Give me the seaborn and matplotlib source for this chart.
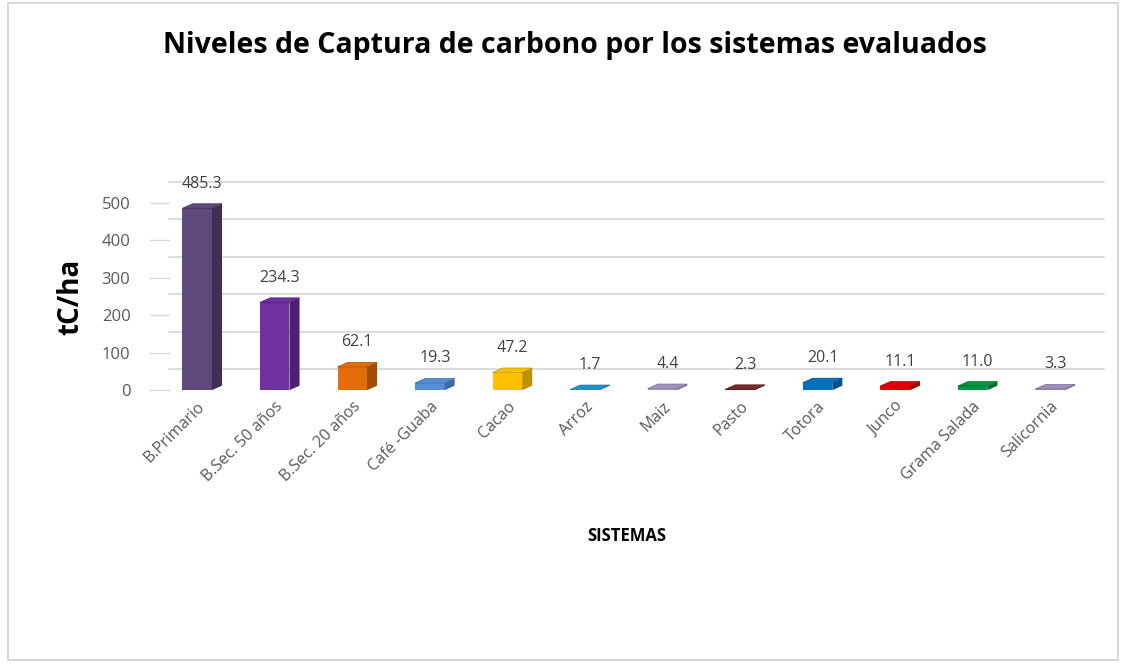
import numpy as np
import pandas as pd
import seaborn as sns
import matplotlib.pyplot as plt
from matplotlib.patches import Polygon, Rectangle
from matplotlib.transforms import ScaledTranslation

sistemas = ["B.Primario", "B.Sec. 50 años", "B.Sec. 20 años", "Café -Guaba", "Cacao",
            "Arroz", "Maiz", "Pasto", "Totora", "Junco", "Grama Salada", "Salicornia"]
carbono = [485.3, 234.3, 62.1, 19.3, 47.2, 1.7, 4.4, 2.3, 20.1, 11.1, 11.0, 3.3]
colores = ["#5E4A7C", "#7030A0", "#E46C0A", "#558ED5", "#FFC000", "#1B93C8",
           "#A093BC", "#7B2A2A", "#0070C0", "#E00000", "#00963F", "#9A8FB8"]
lados = ["#3F2E56", "#4E1F72", "#A34C05", "#3A6BA8", "#BF9000", "#0F6E98",
         "#7A6E96", "#561C1C", "#004F8A", "#A00000", "#006A2C", "#756B90"]
yticks = [0, 100, 200, 300, 400, 500]

df = pd.DataFrame({"Sistema": sistemas, "Carbono": carbono})

sns.set_style("white")
plt.rcParams["font.family"] = ["Open Sans", "DejaVu Sans"]

fig = plt.figure(figsize=(11.27, 6.67), dpi=100)
fig.patches.append(Rectangle((0.007, 0.01), 0.985, 0.985, transform=fig.transFigure,
                             fill=False, edgecolor="#D0D0D0", lw=1.2))
ax = fig.add_axes([0.133, 0.415, 0.847, 0.281])

sns.barplot(data=df, x="Sistema", y="Carbono", hue="Sistema", palette=colores,
            legend=False, width=0.38, ax=ax, saturation=1, linewidth=0)
ax.set_ylim(0, 500)
ax.set_xlim(-0.61, 11.7)

# depth of the 3D effect in data units
dx, dy = 0.13, 12.0
for p, lado, col, v in zip(ax.patches, lados, colores, carbono):
    x0, w, h = p.get_x(), p.get_width(), p.get_height()
    side = [(x0 + w, 0), (x0 + w + dx, dy), (x0 + w + dx, h + dy), (x0 + w, h)]
    top = [(x0, h), (x0 + dx, h + dy), (x0 + w + dx, h + dy), (x0 + w, h)]
    ax.add_patch(Polygon(side, closed=True, facecolor=lado, edgecolor="none", clip_on=False, zorder=3))
    ax.add_patch(Polygon(top, closed=True, facecolor=col, edgecolor=lado, lw=0.5, clip_on=False, zorder=3))
    ax.text(x0 + w / 2 + dx / 2, h + dy + 32, f"{v:.1f}", ha="center", va="bottom",
            fontsize=11.5, color="#404040", clip_on=False)

# back-wall gridlines
off = ScaledTranslation(0, 15 / 72, fig.dpi_scale_trans)
for t in yticks:
    ax.plot([0.02, 1.0], [t, t], transform=ax.get_yaxis_transform() + off,
            color="#D9D9D9", lw=1.3, zorder=0, clip_on=False)
    ax.plot([0.0, 0.02], [t, t], transform=ax.get_yaxis_transform(), color="#D9D9D9",
            lw=1.0, zorder=0, clip_on=False)

for s in ax.spines.values():
    s.set_visible(False)
ax.set_yticks(yticks)
ax.tick_params(axis="y", length=0, labelsize=12, labelcolor="#595959", pad=14)
ax.tick_params(axis="x", length=0, labelsize=11.5, labelcolor="#595959", pad=6)
plt.setp(ax.get_xticklabels(), rotation=45, ha="right", rotation_mode="anchor")
ax.set_ylabel("tC/ha", fontsize=20, fontweight="bold", color="black", labelpad=12)
ax.set_xlabel("SISTEMAS", fontsize=12, fontweight="bold", color="black", labelpad=30)
fig.text(0.51, 0.932, "Niveles de Captura de carbono por los sistemas evaluados",
         ha="center", va="center", fontsize=20.5, fontweight="bold", color="black")

fig.savefig("out.png", dpi=100)
